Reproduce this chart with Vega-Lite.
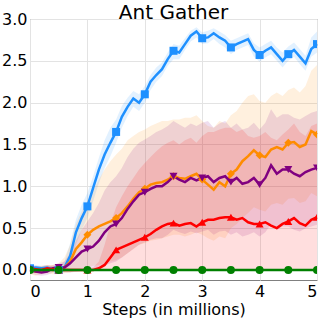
{
  "$schema": "https://vega.github.io/schema/vega-lite/v6.json",
  "width": 287,
  "height": 261,
  "autosize": "none",
  "padding": {"left": 30, "top": 19, "right": 15, "bottom": 39},
  "background": "white",
  "title": {"text": "Ant Gather", "font": "DejaVu Sans", "fontSize": 20, "fontWeight": "normal", "color": "black", "offset": 0, "dy": 12},
  "config": {
    "font": "DejaVu Sans",
    "view": {"stroke": "#808080", "strokeWidth": 1},
    "axis": {
      "labelFont": "DejaVu Sans", "labelFontSize": 16, "labelColor": "black",
      "titleFont": "DejaVu Sans", "titleFontSize": 16, "titleFontWeight": "normal", "titleColor": "black",
      "grid": true, "gridColor": "#e3e3e3", "gridWidth": 1,
      "ticks": false, "domain": false
    }
  },
  "data": {"values": [
    {"s":"blue","x":0,"y":0.02,"lo":-0.01,"hi":0.05},
    {"s":"blue","x":0.1,"y":0.03,"lo":0.0,"hi":0.06},
    {"s":"blue","x":0.2,"y":0.02,"lo":-0.01,"hi":0.05},
    {"s":"blue","x":0.3,"y":0.03,"lo":0.0,"hi":0.06},
    {"s":"blue","x":0.4,"y":0.01,"lo":-0.02,"hi":0.04},
    {"s":"blue","x":0.5,"y":0.0,"lo":-0.03,"hi":0.04},
    {"s":"blue","x":0.6,"y":0.03,"lo":-0.02,"hi":0.1},
    {"s":"blue","x":0.7,"y":0.17,"lo":0.05,"hi":0.32},
    {"s":"blue","x":0.8,"y":0.45,"lo":0.3,"hi":0.6},
    {"s":"blue","x":0.9,"y":0.62,"lo":0.48,"hi":0.78},
    {"s":"blue","x":1.0,"y":0.76,"lo":0.62,"hi":0.92},
    {"s":"blue","x":1.1,"y":0.98,"lo":0.82,"hi":1.12},
    {"s":"blue","x":1.2,"y":1.2,"lo":1.04,"hi":1.34},
    {"s":"blue","x":1.3,"y":1.38,"lo":1.22,"hi":1.55},
    {"s":"blue","x":1.4,"y":1.52,"lo":1.36,"hi":1.7},
    {"s":"blue","x":1.5,"y":1.65,"lo":1.52,"hi":1.8},
    {"s":"blue","x":1.6,"y":1.83,"lo":1.7,"hi":1.96},
    {"s":"blue","x":1.7,"y":1.95,"lo":1.84,"hi":2.06},
    {"s":"blue","x":1.8,"y":2.05,"lo":1.95,"hi":2.14},
    {"s":"blue","x":1.9,"y":2.0,"lo":1.9,"hi":2.1},
    {"s":"blue","x":2.0,"y":2.1,"lo":2.0,"hi":2.2},
    {"s":"blue","x":2.1,"y":2.25,"lo":2.15,"hi":2.33},
    {"s":"blue","x":2.2,"y":2.33,"lo":2.25,"hi":2.42},
    {"s":"blue","x":2.3,"y":2.4,"lo":2.32,"hi":2.48},
    {"s":"blue","x":2.4,"y":2.52,"lo":2.44,"hi":2.6},
    {"s":"blue","x":2.5,"y":2.62,"lo":2.52,"hi":2.7},
    {"s":"blue","x":2.6,"y":2.6,"lo":2.52,"hi":2.68},
    {"s":"blue","x":2.7,"y":2.7,"lo":2.63,"hi":2.77},
    {"s":"blue","x":2.8,"y":2.8,"lo":2.73,"hi":2.86},
    {"s":"blue","x":2.9,"y":2.85,"lo":2.78,"hi":2.9},
    {"s":"blue","x":3.0,"y":2.77,"lo":2.7,"hi":2.84},
    {"s":"blue","x":3.1,"y":2.78,"lo":2.71,"hi":2.86},
    {"s":"blue","x":3.2,"y":2.83,"lo":2.76,"hi":2.89},
    {"s":"blue","x":3.3,"y":2.78,"lo":2.7,"hi":2.85},
    {"s":"blue","x":3.4,"y":2.74,"lo":2.66,"hi":2.81},
    {"s":"blue","x":3.5,"y":2.66,"lo":2.58,"hi":2.74},
    {"s":"blue","x":3.6,"y":2.7,"lo":2.63,"hi":2.77},
    {"s":"blue","x":3.7,"y":2.73,"lo":2.66,"hi":2.8},
    {"s":"blue","x":3.8,"y":2.76,"lo":2.69,"hi":2.83},
    {"s":"blue","x":3.9,"y":2.63,"lo":2.55,"hi":2.71},
    {"s":"blue","x":4.0,"y":2.57,"lo":2.49,"hi":2.66},
    {"s":"blue","x":4.1,"y":2.62,"lo":2.54,"hi":2.7},
    {"s":"blue","x":4.2,"y":2.66,"lo":2.58,"hi":2.74},
    {"s":"blue","x":4.3,"y":2.58,"lo":2.5,"hi":2.66},
    {"s":"blue","x":4.4,"y":2.5,"lo":2.42,"hi":2.6},
    {"s":"blue","x":4.5,"y":2.58,"lo":2.5,"hi":2.67},
    {"s":"blue","x":4.6,"y":2.63,"lo":2.55,"hi":2.72},
    {"s":"blue","x":4.7,"y":2.55,"lo":2.46,"hi":2.64},
    {"s":"blue","x":4.8,"y":2.47,"lo":2.38,"hi":2.56},
    {"s":"blue","x":4.9,"y":2.64,"lo":2.55,"hi":2.78},
    {"s":"blue","x":5.0,"y":2.7,"lo":2.6,"hi":2.85},

    {"s":"orange","x":0,"y":0.0,"lo":-0.05,"hi":0.05},
    {"s":"orange","x":0.1,"y":-0.02,"lo":-0.07,"hi":0.03},
    {"s":"orange","x":0.2,"y":0.0,"lo":-0.05,"hi":0.05},
    {"s":"orange","x":0.3,"y":0.01,"lo":-0.04,"hi":0.06},
    {"s":"orange","x":0.4,"y":0.0,"lo":-0.05,"hi":0.06},
    {"s":"orange","x":0.5,"y":0.01,"lo":-0.05,"hi":0.08},
    {"s":"orange","x":0.6,"y":0.03,"lo":-0.04,"hi":0.15},
    {"s":"orange","x":0.7,"y":0.1,"lo":-0.03,"hi":0.3},
    {"s":"orange","x":0.8,"y":0.25,"lo":0.0,"hi":0.55},
    {"s":"orange","x":0.9,"y":0.33,"lo":0.02,"hi":0.7},
    {"s":"orange","x":1.0,"y":0.42,"lo":0.03,"hi":0.82},
    {"s":"orange","x":1.1,"y":0.48,"lo":0.05,"hi":0.95},
    {"s":"orange","x":1.2,"y":0.52,"lo":0.06,"hi":1.08},
    {"s":"orange","x":1.3,"y":0.55,"lo":0.08,"hi":1.2},
    {"s":"orange","x":1.4,"y":0.58,"lo":0.1,"hi":1.3},
    {"s":"orange","x":1.5,"y":0.62,"lo":0.12,"hi":1.38},
    {"s":"orange","x":1.6,"y":0.68,"lo":0.15,"hi":1.45},
    {"s":"orange","x":1.7,"y":0.76,"lo":0.2,"hi":1.55},
    {"s":"orange","x":1.8,"y":0.85,"lo":0.25,"hi":1.6},
    {"s":"orange","x":1.9,"y":0.93,"lo":0.3,"hi":1.65},
    {"s":"orange","x":2.0,"y":0.97,"lo":0.32,"hi":1.68},
    {"s":"orange","x":2.1,"y":1.02,"lo":0.35,"hi":1.72},
    {"s":"orange","x":2.2,"y":1.04,"lo":0.36,"hi":1.75},
    {"s":"orange","x":2.3,"y":1.05,"lo":0.38,"hi":1.78},
    {"s":"orange","x":2.4,"y":1.08,"lo":0.4,"hi":1.78},
    {"s":"orange","x":2.5,"y":1.12,"lo":0.42,"hi":1.8},
    {"s":"orange","x":2.6,"y":1.1,"lo":0.42,"hi":1.8},
    {"s":"orange","x":2.7,"y":1.09,"lo":0.4,"hi":1.82},
    {"s":"orange","x":2.8,"y":1.12,"lo":0.42,"hi":1.82},
    {"s":"orange","x":2.9,"y":1.15,"lo":0.45,"hi":1.85},
    {"s":"orange","x":3.0,"y":1.08,"lo":0.42,"hi":1.78},
    {"s":"orange","x":3.1,"y":1.02,"lo":0.38,"hi":1.72},
    {"s":"orange","x":3.2,"y":0.96,"lo":0.35,"hi":1.7},
    {"s":"orange","x":3.3,"y":1.05,"lo":0.4,"hi":1.78},
    {"s":"orange","x":3.4,"y":1.0,"lo":0.38,"hi":1.75},
    {"s":"orange","x":3.5,"y":1.15,"lo":0.5,"hi":1.85},
    {"s":"orange","x":3.6,"y":1.2,"lo":0.55,"hi":1.9},
    {"s":"orange","x":3.7,"y":1.3,"lo":0.62,"hi":2.0},
    {"s":"orange","x":3.8,"y":1.36,"lo":0.68,"hi":2.08},
    {"s":"orange","x":3.9,"y":1.43,"lo":0.75,"hi":2.1},
    {"s":"orange","x":4.0,"y":1.37,"lo":0.72,"hi":2.02},
    {"s":"orange","x":4.1,"y":1.35,"lo":0.7,"hi":2.0},
    {"s":"orange","x":4.2,"y":1.44,"lo":0.78,"hi":2.08},
    {"s":"orange","x":4.3,"y":1.47,"lo":0.8,"hi":2.12},
    {"s":"orange","x":4.4,"y":1.44,"lo":0.78,"hi":2.08},
    {"s":"orange","x":4.5,"y":1.52,"lo":0.85,"hi":2.15},
    {"s":"orange","x":4.6,"y":1.53,"lo":0.86,"hi":2.18},
    {"s":"orange","x":4.7,"y":1.47,"lo":0.8,"hi":2.12},
    {"s":"orange","x":4.8,"y":1.5,"lo":0.82,"hi":2.2},
    {"s":"orange","x":4.9,"y":1.66,"lo":0.92,"hi":2.38},
    {"s":"orange","x":5.0,"y":1.62,"lo":0.88,"hi":2.45},

    {"s":"purple","x":0,"y":0.0,"lo":-0.04,"hi":0.04},
    {"s":"purple","x":0.1,"y":-0.02,"lo":-0.06,"hi":0.02},
    {"s":"purple","x":0.2,"y":-0.03,"lo":-0.07,"hi":0.02},
    {"s":"purple","x":0.3,"y":-0.02,"lo":-0.06,"hi":0.03},
    {"s":"purple","x":0.4,"y":0.02,"lo":-0.03,"hi":0.06},
    {"s":"purple","x":0.5,"y":0.03,"lo":-0.02,"hi":0.08},
    {"s":"purple","x":0.6,"y":0.03,"lo":-0.03,"hi":0.1},
    {"s":"purple","x":0.7,"y":0.08,"lo":-0.03,"hi":0.2},
    {"s":"purple","x":0.8,"y":0.15,"lo":-0.02,"hi":0.35},
    {"s":"purple","x":0.9,"y":0.22,"lo":-0.01,"hi":0.48},
    {"s":"purple","x":1.0,"y":0.25,"lo":0.0,"hi":0.58},
    {"s":"purple","x":1.1,"y":0.28,"lo":0.0,"hi":0.68},
    {"s":"purple","x":1.2,"y":0.35,"lo":0.02,"hi":0.8},
    {"s":"purple","x":1.3,"y":0.45,"lo":0.05,"hi":0.95},
    {"s":"purple","x":1.4,"y":0.52,"lo":0.08,"hi":1.05},
    {"s":"purple","x":1.5,"y":0.55,"lo":0.1,"hi":1.12},
    {"s":"purple","x":1.6,"y":0.62,"lo":0.15,"hi":1.22},
    {"s":"purple","x":1.7,"y":0.73,"lo":0.2,"hi":1.35},
    {"s":"purple","x":1.8,"y":0.82,"lo":0.25,"hi":1.45},
    {"s":"purple","x":1.9,"y":0.9,"lo":0.3,"hi":1.52},
    {"s":"purple","x":2.0,"y":0.93,"lo":0.33,"hi":1.56},
    {"s":"purple","x":2.1,"y":0.97,"lo":0.36,"hi":1.6},
    {"s":"purple","x":2.2,"y":1.0,"lo":0.38,"hi":1.65},
    {"s":"purple","x":2.3,"y":1.0,"lo":0.38,"hi":1.68},
    {"s":"purple","x":2.4,"y":1.05,"lo":0.42,"hi":1.72},
    {"s":"purple","x":2.5,"y":1.12,"lo":0.48,"hi":1.78},
    {"s":"purple","x":2.6,"y":1.08,"lo":0.45,"hi":1.74},
    {"s":"purple","x":2.7,"y":1.05,"lo":0.43,"hi":1.7},
    {"s":"purple","x":2.8,"y":1.1,"lo":0.46,"hi":1.75},
    {"s":"purple","x":2.9,"y":1.07,"lo":0.44,"hi":1.72},
    {"s":"purple","x":3.0,"y":1.1,"lo":0.46,"hi":1.76},
    {"s":"purple","x":3.1,"y":1.12,"lo":0.48,"hi":1.78},
    {"s":"purple","x":3.2,"y":1.05,"lo":0.42,"hi":1.7},
    {"s":"purple","x":3.3,"y":1.1,"lo":0.46,"hi":1.75},
    {"s":"purple","x":3.4,"y":1.12,"lo":0.47,"hi":1.78},
    {"s":"purple","x":3.5,"y":1.05,"lo":0.42,"hi":1.7},
    {"s":"purple","x":3.6,"y":1.1,"lo":0.45,"hi":1.75},
    {"s":"purple","x":3.7,"y":1.03,"lo":0.4,"hi":1.68},
    {"s":"purple","x":3.8,"y":1.05,"lo":0.42,"hi":1.7},
    {"s":"purple","x":3.9,"y":1.1,"lo":0.45,"hi":1.76},
    {"s":"purple","x":4.0,"y":1.02,"lo":0.4,"hi":1.68},
    {"s":"purple","x":4.1,"y":1.1,"lo":0.45,"hi":1.76},
    {"s":"purple","x":4.2,"y":1.25,"lo":0.55,"hi":1.92},
    {"s":"purple","x":4.3,"y":1.15,"lo":0.48,"hi":1.82},
    {"s":"purple","x":4.4,"y":1.2,"lo":0.52,"hi":1.86},
    {"s":"purple","x":4.5,"y":1.2,"lo":0.52,"hi":1.86},
    {"s":"purple","x":4.6,"y":1.15,"lo":0.48,"hi":1.82},
    {"s":"purple","x":4.7,"y":1.12,"lo":0.46,"hi":1.8},
    {"s":"purple","x":4.8,"y":1.17,"lo":0.5,"hi":1.84},
    {"s":"purple","x":4.9,"y":1.2,"lo":0.52,"hi":1.88},
    {"s":"purple","x":5.0,"y":1.22,"lo":0.54,"hi":1.9},

    {"s":"red","x":0,"y":0.02,"lo":-0.02,"hi":0.06},
    {"s":"red","x":0.1,"y":0.01,"lo":-0.03,"hi":0.05},
    {"s":"red","x":0.2,"y":0.0,"lo":-0.03,"hi":0.04},
    {"s":"red","x":0.3,"y":0.02,"lo":-0.02,"hi":0.06},
    {"s":"red","x":0.4,"y":0.01,"lo":-0.02,"hi":0.05},
    {"s":"red","x":0.5,"y":0.0,"lo":-0.02,"hi":0.04},
    {"s":"red","x":0.6,"y":0.0,"lo":-0.01,"hi":0.03},
    {"s":"red","x":0.7,"y":0.0,"lo":-0.01,"hi":0.02},
    {"s":"red","x":0.8,"y":0.0,"lo":0.0,"hi":0.02},
    {"s":"red","x":0.9,"y":0.0,"lo":0.0,"hi":0.02},
    {"s":"red","x":1.0,"y":0.0,"lo":0.0,"hi":0.02},
    {"s":"red","x":1.1,"y":0.0,"lo":0.0,"hi":0.03},
    {"s":"red","x":1.2,"y":0.02,"lo":0.0,"hi":0.1},
    {"s":"red","x":1.3,"y":0.06,"lo":0.0,"hi":0.3},
    {"s":"red","x":1.4,"y":0.15,"lo":0.0,"hi":0.55},
    {"s":"red","x":1.5,"y":0.24,"lo":0.0,"hi":0.75},
    {"s":"red","x":1.6,"y":0.27,"lo":0.0,"hi":0.88},
    {"s":"red","x":1.7,"y":0.3,"lo":0.0,"hi":1.0},
    {"s":"red","x":1.8,"y":0.33,"lo":0.0,"hi":1.1},
    {"s":"red","x":1.9,"y":0.36,"lo":0.0,"hi":1.2},
    {"s":"red","x":2.0,"y":0.39,"lo":0.0,"hi":1.28},
    {"s":"red","x":2.1,"y":0.43,"lo":0.0,"hi":1.35},
    {"s":"red","x":2.2,"y":0.48,"lo":0.0,"hi":1.42},
    {"s":"red","x":2.3,"y":0.52,"lo":0.0,"hi":1.48},
    {"s":"red","x":2.4,"y":0.55,"lo":0.0,"hi":1.52},
    {"s":"red","x":2.5,"y":0.56,"lo":0.0,"hi":1.55},
    {"s":"red","x":2.6,"y":0.53,"lo":0.0,"hi":1.5},
    {"s":"red","x":2.7,"y":0.55,"lo":0.0,"hi":1.55},
    {"s":"red","x":2.8,"y":0.56,"lo":0.0,"hi":1.58},
    {"s":"red","x":2.9,"y":0.52,"lo":0.0,"hi":1.52},
    {"s":"red","x":3.0,"y":0.57,"lo":0.0,"hi":1.6},
    {"s":"red","x":3.1,"y":0.6,"lo":0.0,"hi":1.65},
    {"s":"red","x":3.2,"y":0.6,"lo":0.0,"hi":1.65},
    {"s":"red","x":3.3,"y":0.62,"lo":0.0,"hi":1.68},
    {"s":"red","x":3.4,"y":0.63,"lo":0.0,"hi":1.7},
    {"s":"red","x":3.5,"y":0.63,"lo":0.0,"hi":1.7},
    {"s":"red","x":3.6,"y":0.6,"lo":0.0,"hi":1.65},
    {"s":"red","x":3.7,"y":0.62,"lo":0.0,"hi":1.68},
    {"s":"red","x":3.8,"y":0.57,"lo":0.0,"hi":1.6},
    {"s":"red","x":3.9,"y":0.55,"lo":0.0,"hi":1.58},
    {"s":"red","x":4.0,"y":0.55,"lo":0.0,"hi":1.6},
    {"s":"red","x":4.1,"y":0.57,"lo":0.0,"hi":1.65},
    {"s":"red","x":4.2,"y":0.53,"lo":0.0,"hi":1.58},
    {"s":"red","x":4.3,"y":0.5,"lo":0.0,"hi":1.55},
    {"s":"red","x":4.4,"y":0.55,"lo":0.0,"hi":1.62},
    {"s":"red","x":4.5,"y":0.58,"lo":0.0,"hi":1.68},
    {"s":"red","x":4.6,"y":0.62,"lo":0.0,"hi":1.75},
    {"s":"red","x":4.7,"y":0.56,"lo":0.0,"hi":1.65},
    {"s":"red","x":4.8,"y":0.53,"lo":0.0,"hi":1.6},
    {"s":"red","x":4.9,"y":0.6,"lo":0.0,"hi":1.72},
    {"s":"red","x":5.0,"y":0.63,"lo":0.0,"hi":1.75},

    {"s":"green","x":0,"y":0,"lo":0,"hi":0},
    {"s":"green","x":0.5,"y":0,"lo":0,"hi":0},
    {"s":"green","x":1.0,"y":0,"lo":0,"hi":0},
    {"s":"green","x":1.5,"y":0,"lo":0,"hi":0},
    {"s":"green","x":2.0,"y":0,"lo":0,"hi":0},
    {"s":"green","x":2.5,"y":0,"lo":0,"hi":0},
    {"s":"green","x":3.0,"y":0,"lo":0,"hi":0},
    {"s":"green","x":3.5,"y":0,"lo":0,"hi":0},
    {"s":"green","x":4.0,"y":0,"lo":0,"hi":0},
    {"s":"green","x":4.5,"y":0,"lo":0,"hi":0},
    {"s":"green","x":5.0,"y":0,"lo":0,"hi":0}
  ]},
  "encoding": {
    "x": {"field": "x", "type": "quantitative", "scale": {"domain": [0, 5], "nice": false, "zero": false},
      "axis": {"values": [0, 1, 2, 3, 4, 5], "title": "Steps (in millions)", "labelPadding": 3, "titlePadding": 2, "format": "d"}},
    "color": {"field": "s", "type": "nominal", "legend": null,
      "scale": {"domain": ["blue", "orange", "purple", "red", "green"], "range": ["#1e90ff", "#ff8c00", "#800080", "#ff0000", "#008000"]}}
  },
  "layer": [
    {
      "mark": {"type": "area", "opacity": 0.13},
      "encoding": {
        "y": {"field": "lo", "type": "quantitative", "scale": {"domain": [-0.12, 3.0], "nice": false, "zero": false},
          "axis": {"values": [0, 0.5, 1, 1.5, 2, 2.5, 3], "format": ".1f", "title": null, "labelPadding": 3}},
        "y2": {"field": "hi"}
      }
    },
    {
      "mark": {"type": "line", "strokeWidth": 2.5},
      "encoding": {"y": {"field": "y", "type": "quantitative"}}
    },
    {
      "transform": [{"filter": "abs(datum.x * 2 - round(datum.x * 2)) < 0.001"}],
      "mark": {"type": "point", "filled": true, "opacity": 1, "clip": true},
      "encoding": {
        "y": {"field": "y", "type": "quantitative"},
        "shape": {"field": "s", "type": "nominal", "legend": null,
          "scale": {"domain": ["blue", "orange", "purple", "red", "green"], "range": ["square", "diamond", "triangle-down", "triangle-up", "circle"]}},
        "size": {"value": 64}
      }
    }
  ]
}
